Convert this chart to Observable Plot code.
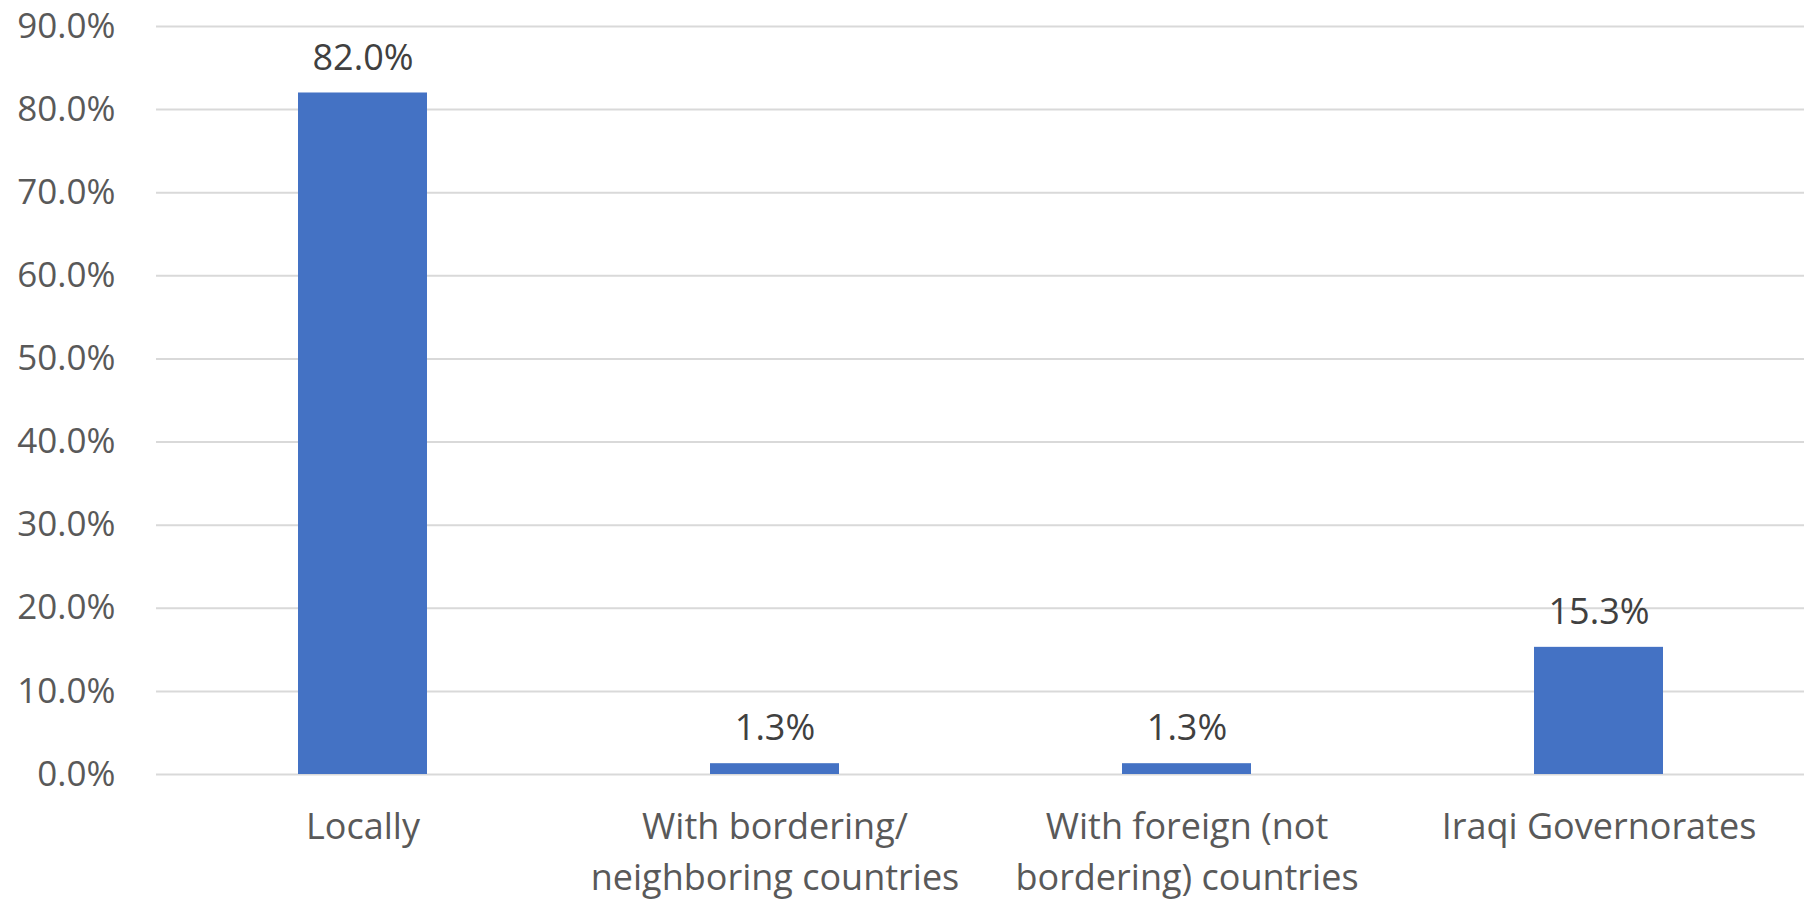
<!DOCTYPE html>
<html>
<head>
<meta charset="utf-8">
<script src="https://cdn.jsdelivr.net/npm/d3@7"></script>
<script src="https://cdn.jsdelivr.net/npm/@observablehq/plot@0.6"></script>
<style>
  html, body { margin: 0; padding: 0; background: #fff; }
  #chart svg { display: block; }
</style>
</head>
<body>
<div id="chart"></div>
<script>
const categories = [
  "Locally",
  "With bordering/ neighboring countries",
  "With foreign (not bordering) countries",
  "Iraqi Governorates"
];
const tickLabels = [
  "Locally",
  "With bordering/\nneighboring countries",
  "With foreign (not\nbordering) countries",
  "Iraqi Governorates"
];
const values = [82.0, 1.3, 1.3, 15.3];
const yTicks = [0, 10, 20, 30, 40, 50, 60, 70, 80, 90];

const data = categories.map((c, i) => ({category: c, value: values[i]}));
const labelOf = new Map(categories.map((c, i) => [c, tickLabels[i]]));

const chart = Plot.plot({
  width: 1808,
  height: 903,
  marginLeft: 156,
  marginRight: 4,
  marginTop: 26,
  marginBottom: 129,
  style: {fontFamily: "'Open Sans', sans-serif", background: "#fff"},
  x: {domain: categories, paddingInner: 0.687, paddingOuter: 0.3435, align: 0.5, label: null},
  y: {domain: [0, 90], label: null},
  marks: [
    Plot.gridY(yTicks, {stroke: "#d9d9d9", strokeOpacity: 1, strokeWidth: 2}),
    Plot.axisY(yTicks, {
      tickSize: 0, tickPadding: 41, fontSize: 35, fill: "#595959",
      tickFormat: d => d.toFixed(1) + "%", label: null
    }),
    Plot.axisX({
      tickSize: 0, tickPadding: 29, fontSize: 36, fill: "#595959",
      lineHeight: 1.4, tickFormat: d => labelOf.get(d), label: null
    }),
    Plot.barY(data, {x: "category", y: "value", fill: "#4472c4"}),
    Plot.text(data, {
      x: "category", y: "value", text: d => d.value.toFixed(1) + "%",
      dy: -35, fontSize: 36, fill: "#404040", lineAnchor: "middle"
    })
  ]
});
document.getElementById("chart").appendChild(chart);
</script>
</body>
</html>
